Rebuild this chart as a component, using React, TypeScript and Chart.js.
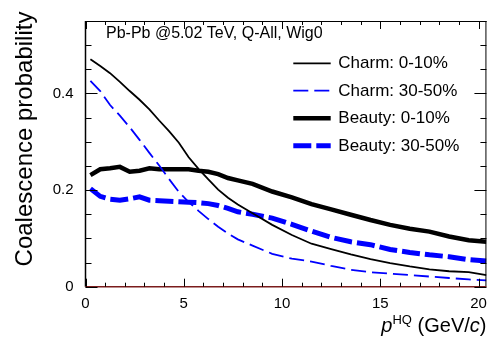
import React, { useEffect, useRef } from 'react';
import { Chart, registerables } from 'chart.js';

Chart.register(...registerables);

const momentum = [0.25, 0.75, 1.25, 1.75, 2.25, 2.75, 3.25, 3.75, 4.25, 4.75, 5.25, 5.75, 6.25, 6.75, 7.25, 7.75, 8.5, 9.5, 10.5, 11.5, 12.5, 13.5, 14.5, 15.5, 16.5, 17.5, 18.5, 19.5, 20.4];
const charmCentral = [0.471, 0.457, 0.442, 0.424, 0.405, 0.387, 0.367, 0.344, 0.322, 0.298, 0.268, 0.244, 0.222, 0.201, 0.184, 0.170, 0.152, 0.128, 0.107, 0.089, 0.078, 0.067, 0.057, 0.049, 0.042, 0.036, 0.032, 0.030, 0.024];
const charmPeripheral = [0.426, 0.405, 0.376, 0.354, 0.330, 0.304, 0.277, 0.251, 0.223, 0.196, 0.175, 0.157, 0.140, 0.124, 0.110, 0.098, 0.085, 0.068, 0.058, 0.052, 0.043, 0.035, 0.030, 0.027, 0.024, 0.021, 0.018, 0.015, 0.013];
const beautyCentral = [0.231, 0.243, 0.245, 0.248, 0.238, 0.240, 0.245, 0.243, 0.243, 0.243, 0.243, 0.240, 0.238, 0.233, 0.225, 0.220, 0.213, 0.197, 0.185, 0.171, 0.160, 0.149, 0.138, 0.128, 0.120, 0.114, 0.104, 0.096, 0.093];
const beautyPeripheral = [0.203, 0.187, 0.181, 0.179, 0.182, 0.186, 0.179, 0.178, 0.177, 0.176, 0.175, 0.174, 0.172, 0.168, 0.162, 0.155, 0.150, 0.142, 0.129, 0.115, 0.102, 0.093, 0.087, 0.077, 0.071, 0.066, 0.062, 0.056, 0.053];

const seriesLabels = ['Charm: 0-10%', 'Charm: 30-50%', 'Beauty: 0-10%', 'Beauty: 30-50%'];
const xTickValues = [0, 5, 10, 15, 20];
const yTickValues = [0, 0.2, 0.4];
const xMinorStep = 1;
const yMinorStep = 0.05;
const headerText = 'Pb-Pb @5.02 TeV, Q-All, Wig0';
const yTitleText = 'Coalescence probability';

const FONT = '"Liberation Sans", Arial, Helvetica, sans-serif';

const styles = [
  { color: '#000000', width: 1.8, dash: [] as number[] },
  { color: '#0000ff', width: 1.8, dash: [15, 6] },
  { color: '#000000', width: 4.5, dash: [] as number[] },
  { color: '#0000ff', width: 5, dash: [18, 5] },
];

const seriesValues = [charmCentral, charmPeripheral, beautyCentral, beautyPeripheral];

const decorPlugin = {
  id: 'rootDecor',
  afterDraw(chart: any) {
    const ctx = chart.ctx as CanvasRenderingContext2D;
    const { left, right, top, bottom } = chart.chartArea;
    const xs = chart.scales.x;
    const ys = chart.scales.y;
    ctx.save();
    // frame
    ctx.strokeStyle = '#000';
    ctx.lineWidth = 1;
    ctx.beginPath();
    ctx.moveTo(left, top + 0.5);
    ctx.lineTo(right, top + 0.5);
    ctx.moveTo(right - 0.5, top);
    ctx.lineTo(right - 0.5, bottom);
    ctx.stroke();
    ctx.lineWidth = 1.5;
    ctx.beginPath();
    ctx.moveTo(left, top);
    ctx.lineTo(left, bottom);
    ctx.stroke();
    ctx.strokeStyle = '#7b1c1c';
    ctx.beginPath();
    ctx.moveTo(left, bottom);
    ctx.lineTo(right, bottom);
    ctx.stroke();

    // ticks
    ctx.strokeStyle = '#000';
    ctx.lineWidth = 1;
    ctx.beginPath();
    for (let v = 0; v <= xs.max + 1e-9; v += xMinorStep) {
      const major = xTickValues.some((t) => Math.abs(t - v) < 1e-6);
      const len = major ? 8 : 4;
      const px = Math.round(xs.getPixelForValue(v)) + 0.5;
      ctx.moveTo(px, bottom);
      ctx.lineTo(px, bottom - len);
      ctx.moveTo(px, top);
      ctx.lineTo(px, top + len);
    }
    for (let v = 0; v <= ys.max + 1e-9; v += yMinorStep) {
      const major = yTickValues.some((t) => Math.abs(t - v) < 1e-6);
      const len = major ? 12 : 6;
      const py = Math.round(ys.getPixelForValue(v)) + 0.5;
      ctx.moveTo(left, py);
      ctx.lineTo(left + len, py);
      ctx.moveTo(right, py);
      ctx.lineTo(right - len, py);
    }
    ctx.stroke();

    // header text
    ctx.fillStyle = '#000';
    ctx.font = `16px ${FONT}`;
    ctx.textAlign = 'left';
    ctx.textBaseline = 'alphabetic';
    ctx.fillText(headerText, 106, 37.5);

    // legend
    const rows = [63.3, 90.7, 118.3, 145.7];
    ctx.font = `17px ${FONT}`;
    ctx.textBaseline = 'middle';
    rows.forEach((ry, i) => {
      const st = styles[i];
      ctx.save();
      ctx.strokeStyle = st.color;
      ctx.lineWidth = st.width;
      ctx.setLineDash(st.dash);
      ctx.beginPath();
      ctx.moveTo(293.3, ry);
      ctx.lineTo(330.7, ry);
      ctx.stroke();
      ctx.restore();
      ctx.fillStyle = '#000';
      ctx.fillText(seriesLabels[i], 338.3, ry + 0.5);
    });

    // y title
    ctx.save();
    ctx.translate(31.5, 139);
    ctx.rotate(-Math.PI / 2);
    ctx.font = `24px ${FONT}`;
    ctx.textAlign = 'center';
    ctx.textBaseline = 'alphabetic';
    ctx.fillText(yTitleText, 0, 0);
    ctx.restore();

    // x title
    const parts = [
      { t: 'p', font: `italic 20px ${FONT}`, dy: 0 },
      { t: 'HQ', font: `13px ${FONT}`, dy: -8 },
      { t: ' (GeV/', font: `20px ${FONT}`, dy: 0 },
      { t: 'c', font: `italic 20px ${FONT}`, dy: 0 },
      { t: ')', font: `20px ${FONT}`, dy: 0 },
    ];
    ctx.textAlign = 'left';
    ctx.textBaseline = 'alphabetic';
    let total = 0;
    const widths = parts.map((p) => {
      ctx.font = p.font;
      const w = ctx.measureText(p.t).width;
      total += w;
      return w;
    });
    let cx = right - total;
    const baseY = 332;
    parts.forEach((p, i) => {
      ctx.font = p.font;
      ctx.fillText(p.t, cx, baseY + p.dy);
      cx += widths[i];
    });
    ctx.restore();
  },
};

export default function App() {
  const canvasRef = useRef<HTMLCanvasElement | null>(null);

  useEffect(() => {
    if (!canvasRef.current) return;
    const datasets = seriesValues.map((vals, i) => ({
      label: seriesLabels[i],
      data: momentum.map((x, j) => ({ x, y: vals[j] })),
      borderColor: styles[i].color,
      borderWidth: styles[i].width,
      borderDash: styles[i].dash,
      pointRadius: 0,
      tension: 0,
      fill: false,
    }));
    const chart = new Chart(canvasRef.current, {
      type: 'line',
      data: { datasets },
      options: {
        responsive: false,
        animation: false,
        devicePixelRatio: 1,
        layout: { padding: { left: 0, top: 14.7, right: 4.3, bottom: 0 } },
        plugins: { legend: { display: false }, tooltip: { enabled: false }, title: { display: false } },
        scales: {
          x: {
            type: 'linear',
            min: 0,
            max: 20.4,
            afterBuildTicks: (s: any) => {
              s.ticks = xTickValues.map((v) => ({ value: v }));
            },
            afterFit: (s: any) => {
              s.height = 50.3;
            },
            grid: { display: false, drawTicks: false },
            border: { display: false },
            ticks: { color: '#000', font: { family: FONT, size: 15 }, padding: 8, maxRotation: 0, autoSkip: false },
          },
          y: {
            type: 'linear',
            min: 0,
            max: 0.55,
            afterBuildTicks: (s: any) => {
              s.ticks = yTickValues.map((v) => ({ value: v }));
            },
            afterFit: (s: any) => {
              s.width = 85.5;
            },
            grid: { display: false, drawTicks: false },
            border: { display: false },
            ticks: { color: '#000', font: { family: FONT, size: 15 }, padding: 12, autoSkip: false },
          },
        },
      },
      plugins: [decorPlugin],
    });
    return () => chart.destroy();
  }, []);

  return (
    <div style={{ position: 'fixed', left: 0, top: 0, width: 495, height: 337, background: '#fff' }}>
      <canvas ref={canvasRef} width={495} height={337} style={{ display: 'block', width: 495, height: 337 }} />
    </div>
  );
}
